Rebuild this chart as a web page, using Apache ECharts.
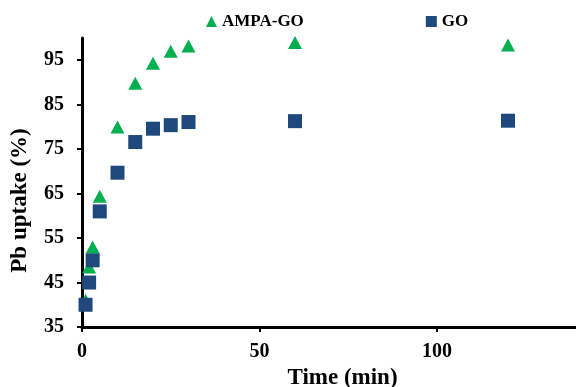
<!DOCTYPE html>
<html>
<head>
<meta charset="utf-8">
<script src="https://cdn.jsdelivr.net/npm/echarts@6/dist/echarts.min.js"></script>
<style>
  html, body { margin: 0; padding: 0; background: #fff; }
  #chart { width: 576px; height: 387px; }
</style>
</head>
<body>
<div id="chart"></div>
<script>
// time points (min)
const times = [1, 2, 3, 5, 10, 15, 20, 25, 30, 60, 120];
// Pb uptake (%)
const ampaGo = [41, 48.5, 53, 64.4, 80, 89.8, 94.3, 97, 98.2, 99, 98.4];
const go = [40, 45, 50, 61, 69.7, 76.6, 79.6, 80.4, 81.1, 81.3, 81.4];
const yTicks = [35, 45, 55, 65, 75, 85, 95];
const xTicks = [0, 50, 100];

const font = 'Liberation Serif, Times New Roman, serif';

const pairs = (xs, ys) => xs.map((x, i) => [x, ys[i]]);

const myChart = echarts.init(document.getElementById('chart'));

myChart.setOption({
  animation: false,
  legend: {
    left: 201,
    top: 8,
    itemGap: 122,
    itemWidth: 11,
    itemHeight: 11,
    textStyle: { fontFamily: font, fontWeight: 'bold', fontSize: 17, color: '#000' },
    data: [
      { name: 'AMPA-GO', icon: 'triangle' },
      { name: 'GO', icon: 'rect' }
    ]
  },
  grid: { left: 82, right: -3, top: 38, bottom: 60, outerBoundsMode: 'none', containLabel: false },
  xAxis: {
    type: 'value',
    min: 0,
    max: 140,
    interval: 50,
    splitLine: { show: false },
    axisLine: { lineStyle: { color: '#000', width: 3 } },
    axisTick: { customValues: xTicks, length: 5, lineStyle: { color: '#000', width: 2 } },
    axisLabel: {
      customValues: xTicks,
      margin: 15,
      fontFamily: font, fontWeight: 'bold', fontSize: 20, color: '#000'
    },
    name: 'Time (min)',
    nameLocation: 'middle',
    nameGap: 34,
    nameTextStyle: {
      fontFamily: font, fontWeight: 'bold', fontSize: 23, color: '#000',
      padding: [0, 0, 0, 24]
    }
  },
  yAxis: {
    type: 'value',
    min: 35,
    max: 100,
    interval: 10,
    splitLine: { show: false },
    axisLine: { lineStyle: { color: '#000', width: 3 } },
    axisTick: { customValues: yTicks, length: 5, lineStyle: { color: '#000', width: 2 } },
    axisLabel: {
      customValues: yTicks,
      margin: 18,
      fontFamily: font, fontWeight: 'bold', fontSize: 20, color: '#000'
    },
    name: 'Pb uptake (%)',
    nameLocation: 'middle',
    nameGap: 50,
    nameTextStyle: {
      fontFamily: font, fontWeight: 'bold', fontSize: 23, color: '#000',
      padding: [0, 36, 0, 0]
    }
  },
  series: [
    {
      name: 'AMPA-GO',
      type: 'scatter',
      symbol: 'triangle',
      symbolSize: [14, 13],
      itemStyle: { color: '#00B050', opacity: 1 },
      data: pairs(times, ampaGo)
    },
    {
      name: 'GO',
      type: 'scatter',
      symbol: 'rect',
      symbolSize: 14,
      itemStyle: { color: '#1F497D', opacity: 1 },
      data: pairs(times, go)
    }
  ]
});
</script>
</body>
</html>
